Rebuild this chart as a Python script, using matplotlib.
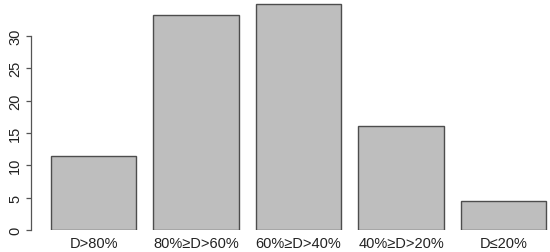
import matplotlib.pyplot as plt

categories = ["D>80%", "80%≥D>60%", "60%≥D>40%", "40%≥D>20%", "D≤20%"]
counts = [11.4, 33.2, 34.9, 16.1, 4.5]
y_ticks = [0, 5, 10, 15, 20, 25, 30]

plt.rcParams['font.family'] = ['Liberation Sans', 'DejaVu Sans']

fig = plt.figure(figsize=(5.5, 2.53), dpi=100)
ax = fig.add_axes([31 / 550, 22 / 253, 519 / 550, 231 / 253])

# R style barplot: width 1, space 0.2
xpos = [0.2 + i * 1.2 + 0.5 for i in range(len(counts))]
ax.bar(xpos, counts, width=1.0, color='#bebebe', edgecolor='#4d4d4d', linewidth=1.0)

ax.set_xlim(-0.035, 6.045)
ax.set_ylim(0, 35.7)

for s in ['top', 'right', 'bottom']:
    ax.spines[s].set_visible(False)
ax.spines['left'].set_bounds(0, 30)
ax.spines['left'].set_color('#555555')
ax.spines['left'].set_linewidth(0.9)

ax.set_yticks(y_ticks)
ax.set_yticklabels([str(t) for t in y_ticks], rotation=90, va='center', fontsize=10.5, color='#222222')
ax.tick_params(axis='y', length=3.5, width=0.9, color='#555555', pad=3)

ax.set_xticks(xpos)
ax.set_xticklabels(categories, fontsize=10.5, color='#222222')
ax.tick_params(axis='x', length=0, pad=4.5)

fig.savefig('out.png', dpi=100)
